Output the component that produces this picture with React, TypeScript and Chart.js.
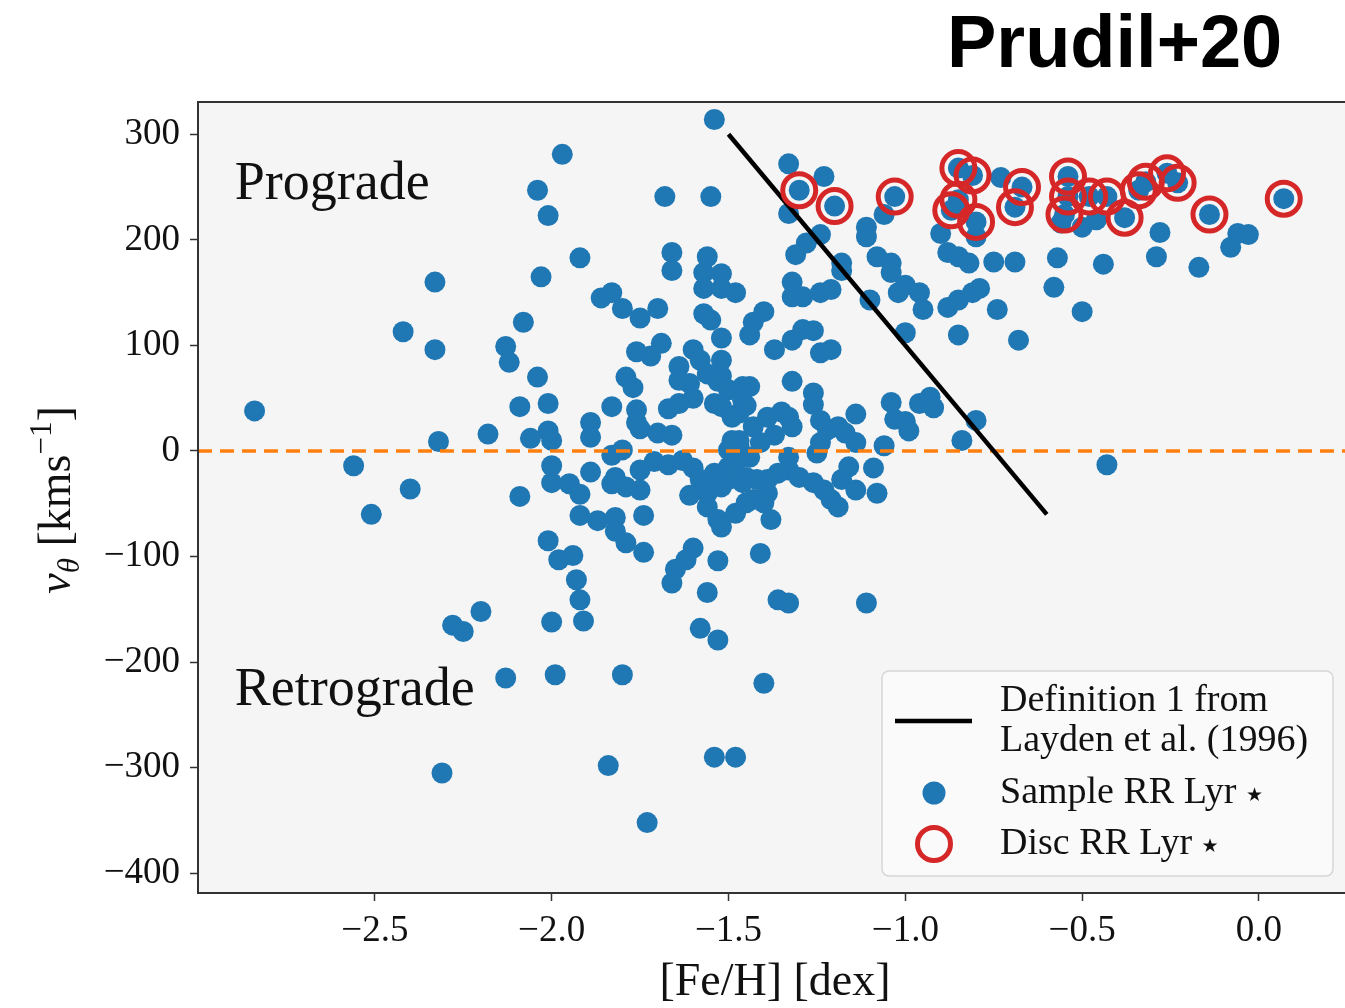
import React, { useEffect, useRef } from "react";
import { Chart, registerables } from "chart.js";

Chart.register(...registerables);

// ---------------- data ----------------
const sampleFeH = [
  -2.84, -2.56, -2.51, -2.40, -2.42, -2.33, -2.33, -2.32, -2.31, -2.28,
  -2.25, -2.20, -2.18, -2.13, -2.12, -2.13, -2.09, -2.09, -2.08, -2.06,
  -2.04, -2.04, -2.03, -2.01, -2.01, -2.01, -2.00, -2.00, -2.00, -2.01,
  -2.00, -1.99, -1.97, -1.98, -1.94, -1.93, -1.92, -1.91, -1.95, -1.92,
  -1.92, -1.92, -1.89, -1.89, -1.89, -1.87, -1.86, -1.83, -1.80, -1.75,
  -1.70, -1.83, -1.83, -1.80, -1.83, -1.82, -1.82, -1.82, -1.79, -1.74,
  -1.74, -1.84, -1.80, -1.73, -1.79, -1.77, -1.76, -1.72, -1.69, -1.76,
  -1.75, -1.75, -1.75, -1.79, -1.71, -1.67, -1.70, -1.66, -1.76, -1.68,
  -1.66, -1.66, -1.54, -1.55, -1.56, -1.57, -1.52, -1.57, -1.52, -1.48,
  -1.57, -1.55, -1.52, -1.64, -1.64, -1.60, -1.58, -1.52, -1.56, -1.52,
  -1.61, -1.60, -1.67, -1.64, -1.54, -1.53, -1.50, -1.46, -1.44, -1.46,
  -1.47, -1.45, -1.52, -1.49, -1.63, -1.60, -1.58, -1.54, -1.61, -1.56,
  -1.56, -1.53, -1.52, -1.56, -1.52, -1.50, -1.50, -1.46, -1.48, -1.45,
  -1.43, -1.39, -1.40, -1.38, -1.50, -1.47, -1.44, -1.48, -1.49, -1.45,
  -1.43, -1.39, -1.35, -1.33, -1.32, -1.37, -1.41, -1.47, -1.49, -1.43,
  -1.40, -1.44, -1.37, -1.60, -1.62, -1.65, -1.66, -1.53, -1.56, -1.58,
  -1.53, -1.54, -1.48, -1.41, -1.33, -1.23, -1.33, -1.24, -1.28, -1.31,
  -1.18, -1.18, -1.08, -1.04, -1.04, -1.00, -0.96, -1.02, -1.11, -1.11,
  -1.06, -1.32, -1.32, -1.29, -1.24, -1.21, -1.10, -1.32, -1.29, -1.26,
  -1.24, -1.21, -1.32, -1.26, -1.26, -1.14, -1.04, -1.03, -1.00, -0.99,
  -0.96, -0.93, -0.92, -0.84, -0.80, -1.06, -1.09, -1.24, -1.22, -1.19,
  -1.17, -1.14, -1.24, -1.25, -1.33, -1.33, -1.36, -1.39, -1.42, -1.30,
  -1.26, -1.23, -1.21, -1.19, -1.18, -1.16, -1.14, -1.08, -1.36, -1.33,
  -1.11, -1.40, -0.90, -0.88, -0.85, -0.82, -0.88, -0.85, -0.81, -0.79,
  -0.75, -0.74, -0.85, -0.95, -1.00, -0.80, -0.73, -0.69, -0.57, -0.44,
  -0.29, -0.17, -0.58, -0.50, -0.68, -0.43, -0.56, -0.50, -0.46, -0.28,
  -0.06, -0.03, -0.08,
];
const sampleVtheta = [
  38, -14, -60, -36, 113, 160, 96, 9, -305, -165,
  -171, -152, 16, 99, 84, -215, -43, 42, 122, 12,
  247, 70, 165, 223, 45, 19, 10, -14, -30, -85,
  -162, -212, 281, -103, -99, -122, -141, -161, -31, -41,
  -61, 183, 27, 13, -20, -66, 145, 150, 135, 126,
  135, 42, -4, 1, -31, -25, -63, -76, -87, -96,
  -61, -298, -212, -352, 70, 60, 94, 90, 102, 39,
  21, -18, -37, -34, -10, -13, 17, 15, 27, 241,
  188, 171, 314, 241, 184, 169, 168, 154, 154, 150,
  130, 124, 107, 80, 67, 96, 86, 86, 73, 71,
  64, 50, 40, 45, 45, 66, 58, 61, 61, 48,
  36, 43, 42, 32, -9, -16, -27, -21, -42, -40,
  -53, -65, -72, -30, -34, -15, -27, -30, -59, -49,
  -46, -40, -49, -65, 1, 4, -6, -11, -21, -25,
  23, 32, 37, 32, 23, 15, 8, 10, 10, 122,
  132, 110, 96, -92, -103, -112, -125, -104, -134, -168,
  -179, -290, -290, -97, 272, 260, 225, 205, 197, 186,
  178, 171, 184, 178, 169, 157, 150, 150, 212, 203,
  224, 160, 146, 146, 150, 153, 143, 105, 115, 114,
  93, 96, 66, 55, 44, 35, 46, 30, 28, 19,
  45, 51, 41, 10, 29, 5, -16, 29, 20, 23,
  17, 8, 8, -2, -6, -18, -21, -27, -27, -25,
  -30, -37, -46, -53, -27, -15, -37, -40, -141, -144,
  -144, -220, 206, 188, 184, 178, 136, 143, 150, 154,
  179, 134, 110, 134, 112, 203, 259, 179, 183, 177,
  184, 174, 155, 132, 105, -13, 216, 212, 219, 207,
  206, 205, 193,
];
const discFeH = [
  -1.30, -1.20, -1.03, -0.85, -0.81, -0.87, -0.85, -0.80, -0.69, -0.67,
  -0.54, -0.54, -0.55, -0.48, -0.43, -0.38, -0.34, -0.32, -0.26, -0.23,
  -0.14, 0.07,
];
const discVtheta = [
  247, 232, 241, 268, 261, 228, 238, 217, 231, 250,
  260, 241, 224, 241, 241, 221, 247, 255, 263, 254,
  224, 239,
];
const laydenFeH = [-1.5, -0.6];
const laydenVtheta = [300, -60];
const zeroFeH = [-3.0, 0.3];
const zeroVtheta = [0, 0];

const xTicks = [-2.5, -2.0, -1.5, -1.0, -0.5, 0.0];
const yTicks = [-400, -300, -200, -100, 0, 100, 200, 300];
const xRange = [-3.0, 0.263];
const yRange = [-418.7, 330.6];

const regionLabels = [
  { text: "Prograde", feh: -2.896, v: 238.7 },
  { text: "Retrograde", feh: -2.896, v: -240.6 },
];
const legendLabels = [
  ["Definition 1 from", "Layden et al. (1996)"],
  ["Sample RR Lyr"],
  ["Disc RR Lyr"],
];
const starGlyph = "\u2605";
const titleText = "Prudil+20";
const xAxisLabel = "[Fe/H] [dex]";

// ---------------- helpers ----------------
const SERIF = "'Liberation Serif', 'DejaVu Serif', serif";
const toPts = (xs: number[], ys: number[]) => xs.map((x, i) => ({ x, y: ys[i] }));
const fmtMinus = (n: number, digits: number) =>
  (n < 0 ? "\u2212" : "") + Math.abs(n).toFixed(digits);

const decorPlugin = {
  id: "decor",
  beforeDraw(chart: any) {
    const { ctx, chartArea: a } = chart;
    ctx.save();
    ctx.fillStyle = "#ffffff";
    ctx.fillRect(0, 0, chart.width, chart.height);
    ctx.fillStyle = "#f5f5f5";
    ctx.fillRect(a.left, a.top, a.right - a.left, a.bottom - a.top);
    ctx.restore();
  },
  afterDraw(chart: any) {
    const { ctx, chartArea: a, scales } = chart;
    ctx.save();

    // spines
    ctx.strokeStyle = "#333333";
    ctx.lineWidth = 2;
    ctx.strokeRect(a.left, a.top, a.right - a.left, a.bottom - a.top);

    // region labels
    ctx.fillStyle = "#111111";
    ctx.font = `54px ${SERIF}`;
    ctx.textAlign = "left";
    ctx.textBaseline = "alphabetic";
    for (const r of regionLabels) {
      ctx.fillText(r.text, scales.x.getPixelForValue(r.feh), scales.y.getPixelForValue(r.v));
    }

    // legend
    const lx = 882, ly = 671, lw = 451, lh = 205;
    ctx.beginPath();
    ctx.roundRect(lx, ly, lw, lh, 7);
    ctx.fillStyle = "rgba(250,250,250,0.95)";
    ctx.fill();
    ctx.strokeStyle = "#d6d6d6";
    ctx.lineWidth = 1.5;
    ctx.stroke();

    ctx.beginPath();
    ctx.moveTo(895, 721);
    ctx.lineTo(972, 721);
    ctx.strokeStyle = "#000000";
    ctx.lineWidth = 4.5;
    ctx.stroke();

    ctx.beginPath();
    ctx.arc(934, 793, 11.5, 0, Math.PI * 2);
    ctx.fillStyle = "#1f77b4";
    ctx.fill();

    ctx.beginPath();
    ctx.arc(934, 844, 16.5, 0, Math.PI * 2);
    ctx.strokeStyle = "#d62728";
    ctx.lineWidth = 5;
    ctx.stroke();

    ctx.fillStyle = "#111111";
    ctx.font = `38px ${SERIF}`;
    ctx.fillText(legendLabels[0][0], 1000, 711);
    ctx.fillText(legendLabels[0][1] , 1000, 751);
    const w1 = ctx.measureText(legendLabels[1][0] + " ").width;
    const w2 = ctx.measureText(legendLabels[2][0] + " ").width;
    ctx.fillText(legendLabels[1][0], 1000, 803);
    ctx.fillText(legendLabels[2][0], 1000, 854);
    ctx.font = "19px 'DejaVu Sans', sans-serif";
    ctx.fillText(starGlyph, 1000 + w1, 801);
    ctx.fillText(starGlyph, 1000 + w2, 852);

    // title
    ctx.fillStyle = "#000000";
    ctx.font = "bold 74px 'Liberation Sans', Arial, sans-serif";
    ctx.fillText(titleText, 947, 67);

    // x axis title
    ctx.fillStyle = "#111111";
    ctx.font = `46px ${SERIF}`;
    ctx.textAlign = "center";
    ctx.fillText(xAxisLabel, (a.left + a.right) / 2, 995);

    // y axis title: v_theta [kms^-1]
    const pieces = [
      { t: "v", f: `italic 46px ${SERIF}`, dy: 0 },
      { t: "\u03B8", f: `italic 31px ${SERIF}`, dy: 9 },
      { t: " [kms", f: `46px ${SERIF}`, dy: 0 },
      { t: "\u22121", f: `31px ${SERIF}`, dy: -19 },
      { t: "]", f: `46px ${SERIF}`, dy: 0 },
    ];
    ctx.textAlign = "left";
    let total = 0;
    const widths = pieces.map((p) => {
      ctx.font = p.f;
      const w = ctx.measureText(p.t).width;
      total += w;
      return w;
    });
    ctx.translate(70, 500);
    ctx.rotate(-Math.PI / 2);
    let cx = -total / 2;
    pieces.forEach((p, i) => {
      ctx.font = p.f;
      ctx.fillText(p.t, cx, p.dy);
      cx += widths[i];
    });

    ctx.restore();
  },
};

export default function App() {
  const ref = useRef<HTMLCanvasElement>(null);

  useEffect(() => {
    if (!ref.current) return;
    Chart.defaults.font.family = SERIF;
    const chart = new Chart(ref.current, {
      type: "scatter",
      data: {
        datasets: [
          {
            label: "Disc RR Lyr",
            data: toPts(discFeH, discVtheta),
            pointRadius: 16.5,
            pointBorderWidth: 5,
            borderWidth: 5,
            pointBorderColor: "#d62728",
            borderColor: "#d62728",
            pointBackgroundColor: "rgba(0,0,0,0)",
            backgroundColor: "rgba(0,0,0,0)",
            order: 0,
          },
          {
            label: "Layden",
            data: toPts(laydenFeH, laydenVtheta),
            showLine: true,
            pointRadius: 0,
            borderColor: "#000000",
            borderWidth: 4.5,
            order: 1,
          },
          {
            label: "zero",
            data: toPts(zeroFeH, zeroVtheta),
            showLine: true,
            pointRadius: 0,
            borderColor: "#ff7f0e",
            borderWidth: 3.5,
            borderDash: [14, 8],
            order: 2,
          },
          {
            label: "Sample RR Lyr",
            data: toPts(sampleFeH.concat(discFeH), sampleVtheta.concat(discVtheta)),
            pointRadius: 10.5,
            pointBorderWidth: 0,
            borderWidth: 0,
            pointBackgroundColor: "#1f77b4",
            backgroundColor: "#1f77b4",
            order: 3,
          },
        ],
      },
      options: {
        animation: false,
        responsive: false,
        devicePixelRatio: 1,
        events: [],
        layout: { padding: { top: 102, right: 48, left: 0, bottom: 0 } },
        plugins: {
          legend: { display: false },
          tooltip: { enabled: false },
          title: { display: false },
        },
        scales: {
          x: {
            type: "linear",
            min: xRange[0],
            max: xRange[1],
            afterBuildTicks: (s: any) => {
              s.ticks = xTicks.map((v) => ({ value: v }));
            },
            afterFit: (s: any) => {
              s.height = 115;
            },
            ticks: {
              color: "#111111",
              font: { size: 37, family: SERIF },
              padding: 8,
              maxRotation: 0,
              autoSkip: false,
              callback: (v: any) => fmtMinus(Number(v), 1),
            },
            grid: {
              drawOnChartArea: false,
              drawTicks: true,
              tickLength: 8,
              tickWidth: 1.5,
              tickColor: "#333333",
            },
            border: { display: false },
          },
          y: {
            type: "linear",
            min: yRange[0],
            max: yRange[1],
            afterBuildTicks: (s: any) => {
              s.ticks = yTicks.map((v) => ({ value: v }));
            },
            afterFit: (s: any) => {
              s.width = 198;
            },
            ticks: {
              color: "#111111",
              font: { size: 37, family: SERIF },
              padding: 10,
              autoSkip: false,
              callback: (v: any) => fmtMinus(Number(v), 0),
            },
            grid: {
              drawOnChartArea: false,
              drawTicks: true,
              tickLength: 8,
              tickWidth: 1.5,
              tickColor: "#333333",
            },
            border: { display: false },
          },
        },
      },
      plugins: [decorPlugin],
    } as any);
    return () => chart.destroy();
  }, []);

  return (
    <div
      style={{
        position: "absolute",
        left: 0,
        top: 0,
        width: 1345,
        height: 1008,
        overflow: "hidden",
        background: "#ffffff",
      }}
    >
      <canvas ref={ref} width={1400} height={1008} style={{ display: "block", width: 1400, height: 1008 }} />
    </div>
  );
}
